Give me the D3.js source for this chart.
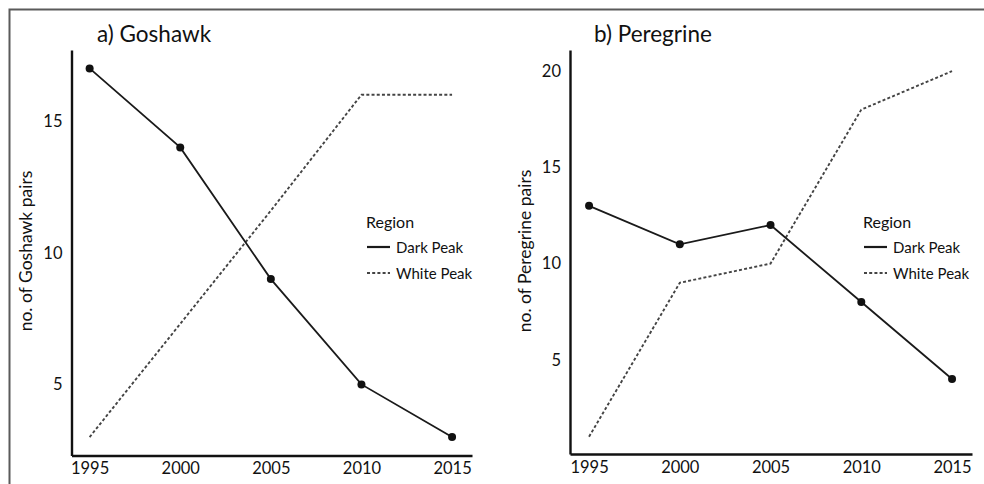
<!DOCTYPE html>
<html>
<head>
<meta charset="utf-8">
<script src="https://cdn.jsdelivr.net/npm/d3@7"></script>
<style>
  html, body { margin: 0; padding: 0; background: #fff; }
  svg { display: block; }
  text { font-family: Lato, "Open Sans", sans-serif; fill: #111; }
</style>
</head>
<body>
<svg id="chart" width="984" height="484"></svg>
<script>
// Survey years shared by both panels
const years = [1995, 2000, 2005, 2010, 2015];

// a) Goshawk breeding pairs
const goshawkDark = [17, 14, 9, 5, 3];
const goshawkWhite = [3, 7.3, 11.6, 16, 16];
const goshawkTicks = [5, 10, 15];

// b) Peregrine breeding pairs
const peregrineDark = [13, 11, 12, 8, 4];
const peregrineWhite = [1, 9, 10, 18, 20];
const peregrineTicks = [5, 10, 15, 20];

const regions = ["Dark Peak", "White Peak"];

const svg = d3.select("#chart");

// outer frame (top and left edges)
svg.append("path")
  .attr("d", "M9.5,484 V9.5 H984")
  .attr("fill", "none")
  .attr("stroke", "#5a5a5a")
  .attr("stroke-width", 2);

const panels = [
  {
    title: "a) Goshawk", ylabel: "no. of Goshawk pairs",
    dark: goshawkDark, white: goshawkWhite, ticks: goshawkTicks,
    xDomain: [1994, 2016.1], xRange: [71.5, 472],
    yDomain: [2.3, 17.7], yRange: [455.5, 50],
    titleX: 97, ylabelX: 25, legendX: 366
  },
  {
    title: "b) Peregrine", ylabel: "no. of Peregrine pairs",
    dark: peregrineDark, white: peregrineWhite, ticks: peregrineTicks,
    xDomain: [1993.95, 2016.1], xRange: [570, 972],
    yDomain: [0.1, 21.1], yRange: [454, 50],
    titleX: 594, ylabelX: 524, legendX: 863
  }
];

panels.forEach(p => {
  const x = d3.scaleLinear().domain(p.xDomain).range(p.xRange);
  const y = d3.scaleLinear().domain(p.yDomain).range(p.yRange);
  const g = svg.append("g");

  // axes without tick marks, thick black domain lines
  const xAxis = g.append("g")
    .attr("transform", `translate(0,${p.yRange[0]})`)
    .call(d3.axisBottom(x).tickValues(years).tickFormat(d3.format("d")).tickSize(0).tickPadding(7));
  const yAxis = g.append("g")
    .attr("transform", `translate(${p.xRange[0]},0)`)
    .call(d3.axisLeft(y).tickValues(p.ticks).tickSize(0).tickPadding(9));
  [xAxis, yAxis].forEach(a => {
    a.select(".domain").attr("stroke", "#111").attr("stroke-width", 2.4);
    a.selectAll("text").style("font-family", "Lato, sans-serif")
      .style("font-size", "16.5px").attr("fill", "#111");
  });

  // title
  g.append("text")
    .attr("x", p.titleX).attr("y", 42)
    .style("font-size", "22.5px")
    .text(p.title);

  // y axis label
  g.append("text")
    .attr("transform", `translate(${p.ylabelX},251) rotate(-90)`)
    .attr("text-anchor", "middle")
    .attr("dominant-baseline", "central")
    .style("font-size", "17.5px")
    .text(p.ylabel);

  const line = d3.line().x((d, i) => x(years[i])).y(d => y(d));

  // White Peak (dashed)
  g.append("path")
    .datum(p.white)
    .attr("d", line)
    .attr("fill", "none")
    .attr("stroke", "#444")
    .attr("stroke-width", 1.9)
    .attr("stroke-dasharray", "3,2.2");

  // Dark Peak (solid with markers)
  g.append("path")
    .datum(p.dark)
    .attr("d", line)
    .attr("fill", "none")
    .attr("stroke", "#1a1a1a")
    .attr("stroke-width", 1.8);
  g.selectAll("circle.dark")
    .data(p.dark)
    .join("circle")
    .attr("class", "dark")
    .attr("cx", (d, i) => x(years[i]))
    .attr("cy", d => y(d))
    .attr("r", 4)
    .attr("fill", "#111");

  // legend
  const lg = g.append("g").attr("transform", `translate(${p.legendX},0)`);
  lg.append("text")
    .attr("x", 0).attr("y", 228)
    .style("font-size", "16px")
    .attr("fill", "#222")
    .text("Region");
  regions.forEach((r, i) => {
    const yy = 247 + i * 26;
    lg.append("line")
      .attr("x1", 1).attr("x2", 24)
      .attr("y1", yy).attr("y2", yy)
      .attr("stroke", i === 0 ? "#1a1a1a" : "#444")
      .attr("stroke-width", i === 0 ? 2.2 : 1.8)
      .attr("stroke-dasharray", i === 0 ? null : "3,2.2");
    lg.append("text")
      .attr("x", 30).attr("y", yy)
      .attr("dominant-baseline", "central")
      .style("font-size", "15px")
      .attr("fill", "#555")
      .text(r);
  });
});
</script>
</body>
</html>
